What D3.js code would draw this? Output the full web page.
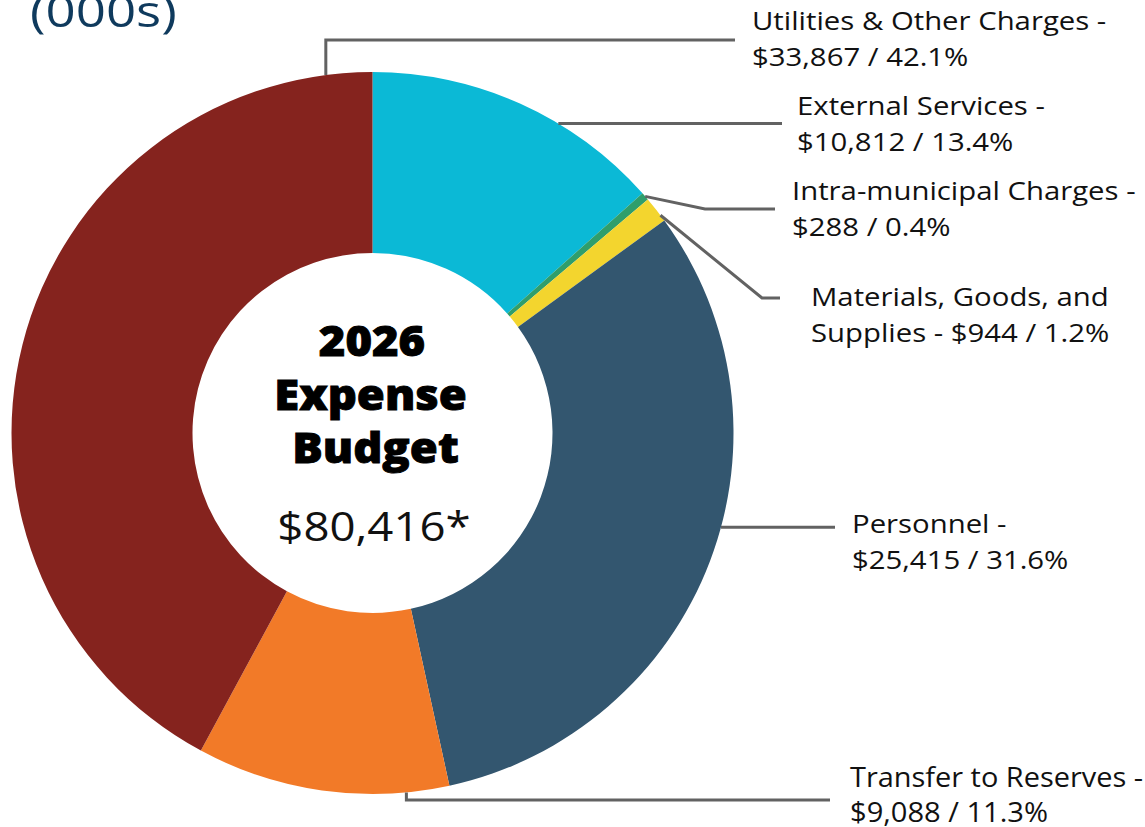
<!DOCTYPE html>
<html>
<head>
<meta charset="utf-8">
<script src="https://cdn.jsdelivr.net/npm/d3@7"></script>
<style>
  html, body { margin: 0; padding: 0; background: #fff; }
  svg { display: block; font-family: "Open Sans", "Noto Sans", sans-serif; }
</style>
</head>
<body>
<svg id="chart" width="1145" height="827"></svg>
<script>
// ---- Data ----
const categories = [
  "External Services",
  "Intra-municipal Charges",
  "Materials, Goods, and Supplies",
  "Personnel",
  "Transfer to Reserves",
  "Utilities & Other Charges"
];
const values = [10812, 288, 944, 25415, 9088, 33867];
const percents = ["13.4%", "0.4%", "1.2%", "31.6%", "11.3%", "42.1%"];
const colors = ["#0bb9d6", "#2f9e6c", "#f3d52e", "#33566f", "#f27a28", "#85231e"];
const labelLines = [
  ["External Services -", "$10,812 / 13.4%"],
  ["Intra-municipal Charges -", "$288 / 0.4%"],
  ["Materials, Goods, and", "Supplies - $944 / 1.2%"],
  ["Personnel -", "$25,415 / 31.6%"],
  ["Transfer to Reserves -", "$9,088 / 11.3%"],
  ["Utilities & Other Charges -", "$33,867 / 42.1%"]
];
const totalLabel = "$80,416*";
const centerTitle = ["2026", "Expense", "Budget"];
const unitsLabel = "(000s)";

// ---- Layout ----
const W = 1145, H = 827;
const cx = 372.5, cy = 433, rOuter = 361, rInner = 180;
const labelLayout = [
  { frac: 0.64, pts: [[782, null]], tx: 797, ty: 115 },
  { frac: 0.50, pts: [[705, 209], [775, 209]], tx: 792, ty: 200 },
  { frac: 0.76, pts: [[762, 298], [780, 298]], tx: 811, ty: 306 },
  { frac: 0.45, pts: [[835, null]], tx: 852, ty: 533 },
  { frac: 0.17, pts: [[null, 800], [830, 800]], tx: 850, ty: 787, squeeze: [293, 198] },
  { frac: 0.951, pts: [[null, 40], [735, 40]], tx: 752, ty: 30 }
];

const svg = d3.select("#chart");

const pie = d3.pie().sort(null).value(d => d);
const arcs = pie(values);
const arcGen = d3.arc().innerRadius(rInner).outerRadius(rOuter);

const g = svg.append("g").attr("transform", `translate(${cx},${cy})`);
g.selectAll("path.slice")
  .data(arcs)
  .join("path")
  .attr("class", "slice")
  .attr("d", arcGen)
  .attr("fill", (d, i) => colors[i]);

// Leader lines and labels
arcs.forEach((a, i) => {
  const L = labelLayout[i];
  const ang = a.startAngle + (a.endAngle - a.startAngle) * L.frac;
  const sx = cx + rOuter * Math.sin(ang);
  const sy = cy - rOuter * Math.cos(ang);
  const pts = [[sx, sy]];
  let prev = [sx, sy];
  L.pts.forEach(p => {
    const q = [p[0] == null ? prev[0] : p[0], p[1] == null ? prev[1] : p[1]];
    pts.push(q);
    prev = q;
  });
  svg.append("path")
    .attr("d", d3.line()(pts))
    .attr("fill", "none")
    .attr("stroke", "#626262")
    .attr("stroke-width", 3);

  if (L.squeeze) {
    const t = svg.append("text")
      .attr("x", L.tx).attr("y", L.ty)
      .attr("font-size", 28).attr("fill", "#111");
    labelLines[i].forEach((line, j) => {
      t.append("tspan")
        .attr("x", L.tx)
        .attr("dy", j === 0 ? 0 : 35)
        .attr("textLength", L.squeeze[j])
        .attr("lengthAdjust", "spacingAndGlyphs")
        .text(line);
    });
  } else {
    const t = svg.append("text")
      .attr("transform", `translate(${L.tx},${L.ty}) scale(1.15,1)`)
      .attr("font-size", 25.5).attr("fill", "#111");
    labelLines[i].forEach((line, j) => {
      t.append("tspan")
        .attr("x", 0)
        .attr("dy", j === 0 ? 0 : 36.5)
        .text(line);
    });
  }
});

// Center text
const centerYs = [356, 410, 463];
const centerXs = [372, 370.5, 375.5];
centerTitle.forEach((s, i) => {
  svg.append("text")
    .attr("transform", `translate(${centerXs[i]},${centerYs[i]}) scale(1.08,1)`)
    .attr("text-anchor", "middle")
    .attr("font-size", 42)
    .attr("font-weight", 800)
    .attr("fill", "#000")
    .attr("stroke", "#000")
    .attr("stroke-width", 0.9)
    .text(s);
});
svg.append("text")
  .attr("transform", `translate(374,541) scale(1.14,1)`)
  .attr("text-anchor", "middle")
  .attr("font-size", 40)
  .attr("fill", "#111")
  .text(totalLabel);

// Units header (partially cut off at the top, as in the reference)
svg.append("text")
  .attr("transform", `translate(30,27) scale(1.2,1)`)
  .attr("font-size", 44)
  .attr("fill", "#0f3a5d")
  .text(unitsLabel);
</script>
</body>
</html>
